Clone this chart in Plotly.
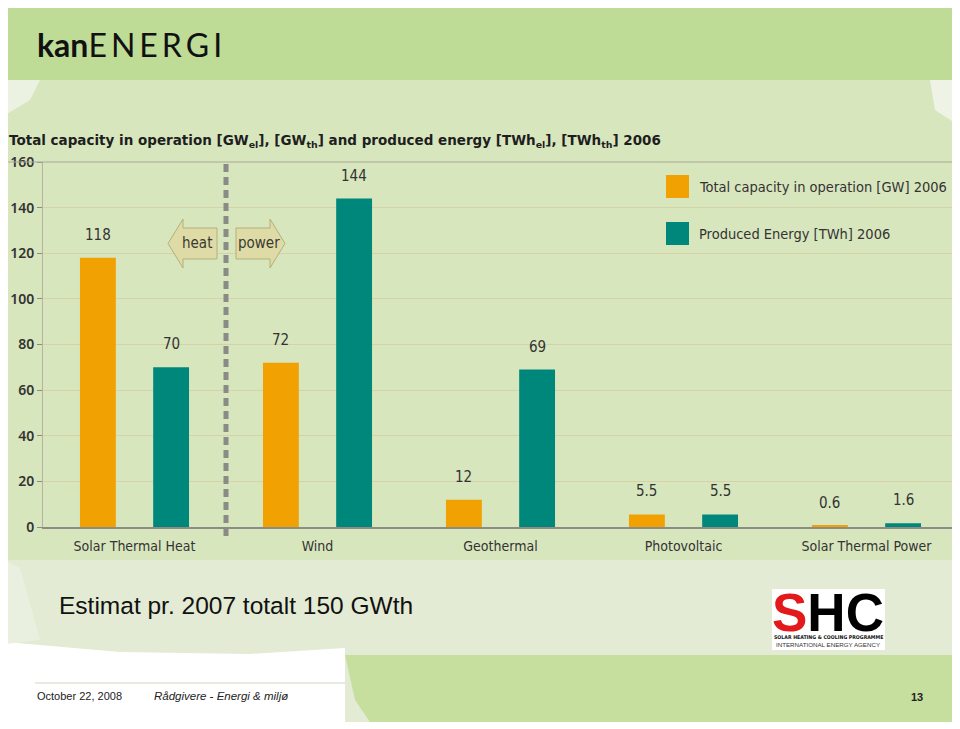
import plotly.graph_objects as go

# ---------------- data ----------------
categories = ["Solar Thermal Heat", "Wind", "Geothermal", "Photovoltaic", "Solar Thermal Power"]
capacity_gw = [118, 72, 12, 5.5, 0.6]
energy_twh = [70, 144, 69, 5.5, 1.6]
series_names = ["Total capacity in operation [GW] 2006", "Produced Energy [TWh] 2006"]
y_ticks = [0, 20, 40, 60, 80, 100, 120, 140, 160]

ORANGE = "#f1a102"
TEAL = "#00877b"
# page body has an 8px margin; figure is drawn at (8, 8)
OFF = 8
W, H = 960 - OFF, 729 - OFF
P_L, P_R, P_T, P_B = 43, 958, 162, 527   # plot area in screen pixels
ML, MR, MT, MB = P_L - OFF, (W + OFF) - P_R, P_T - OFF, (H + OFF) - P_B
PW, PH = P_R - P_L, P_B - P_T


def px(x):
    return (x - P_L) / PW


def py(y):
    return (P_B - y) / PH


fig = go.Figure()
fig.add_trace(go.Bar(x=categories, y=capacity_gw, name=series_names[0],
                     marker=dict(color=ORANGE, line=dict(width=0)), showlegend=False))
fig.add_trace(go.Bar(x=categories, y=energy_twh, name=series_names[1],
                     marker=dict(color=TEAL, line=dict(width=0)), showlegend=False))

shapes = []
ann = []


def rect(x0, y0, x1, y1, color, layer="below", line=None):
    shapes.append(dict(type="rect", xref="paper", yref="paper", x0=px(x0), x1=px(x1),
                       y0=py(y1), y1=py(y0), fillcolor=color, layer=layer,
                       line=line or dict(width=0)))


def path(points, color, layer="below", line=None):
    d = "M " + " L ".join(f"{px(a)},{py(b)}" for a, b in points) + " Z"
    shapes.append(dict(type="path", xref="paper", yref="paper", path=d, fillcolor=color,
                       layer=layer, line=line or dict(width=0)))


def text(x, y, s, font, xanchor="center", yanchor="middle"):
    ann.append(dict(x=px(x), y=py(y), xref="paper", yref="paper", text=s, showarrow=False,
                    xanchor=xanchor, yanchor=yanchor, font=font))


# slide background
rect(5, 80, 958, 560, "#d8e6be")
rect(5, 560, 958, 722, "#e3ebd4")
path([(5, 80), (40, 80), (30, 100), (5, 115)], "#ecf2e2")
path([(930, 80), (958, 80), (958, 125), (935, 110)], "#eef3e6")
path([(5, 642), (120, 652), (250, 654), (345, 648), (345, 729), (5, 729)], "#ffffff")
path([(5, 560), (20, 568), (40, 640), (5, 644)], "#eaf0e0")
path([(345, 655), (958, 655), (958, 722), (370, 722), (355, 700)], "#c6df9f")
rect(5, 5, 955, 80, "#bfdc97")
# footer line
shapes.append(dict(type="line", xref="paper", yref="paper", x0=px(35), x1=px(345),
                   y0=py(683), y1=py(683), line=dict(color="#d2d4c4", width=1), layer="below"))
# plot border (top/right)
shapes.append(dict(type="line", xref="paper", yref="paper", x0=px(5), x1=1, y0=1, y1=1,
                   line=dict(color="#a9a794", width=1)))
shapes.append(dict(type="line", xref="paper", yref="paper", x0=1, x1=1, y0=0, y1=1,
                   line=dict(color="#c9c6a6", width=1)))

# heat / power separator
shapes.append(dict(type="line", xref="x", yref="paper", x0=0.5, x1=0.5, y0=py(536), y1=1,
                   line=dict(color="#8a8a86", width=5, dash="8px,5px")))

# arrows
arrow_line = dict(color="#b3b07a", width=1)
path([(217, 228), (183, 228), (183, 219), (168, 243.5), (183, 268), (183, 259), (217, 259)],
     "#dedba7", layer="above", line=arrow_line)
path([(236, 228), (270, 228), (270, 219), (285, 243.5), (270, 268), (270, 259), (236, 259)],
     "#dedba7", layer="above", line=arrow_line)
arrow_font = dict(family="DejaVu Sans Condensed", size=15, color="#3a3a30")
text(197, 243, "heat", arrow_font)
text(259, 243, "power", arrow_font)

# value labels
for i, (a, b) in enumerate(zip(capacity_gw, energy_twh)):
    for val, off in ((a, -0.2), (b, 0.2)):
        ann.append(dict(x=i + off, y=val, xref="x", yref="y", text=f"{val:g}", showarrow=False,
                        xanchor="center", yanchor="bottom", yshift=12,
                        font=dict(family="DejaVu Sans Condensed", size=15, color="#333333")))

# legend (drawn)
for k, (name, col) in enumerate(zip(series_names, [ORANGE, TEAL])):
    y0 = 175 + k * 47
    rect(666, y0, 689, y0 + 23, col, layer="above")
    text(697, y0 + 12, name, dict(family="DejaVu Sans Condensed", size=14.5, color="#333333"),
         xanchor="left")

# title
text(7, 141, "Total capacity in operation [GW<sub>el</sub>], [GW<sub>th</sub>] and produced energy "
             "[TWh<sub>el</sub>], [TWh<sub>th</sub>] 2006",
     dict(family="DejaVu Sans", size=13.5, color="#1e1e1e", weight="bold"), xanchor="left")

# logo
text(35, 44, "<b>kan</b>E\u2009N\u2009E\u2009R\u2009G\u2009I",
     dict(family="Lato", size=32, color="#111111"), xanchor="left")

# note
text(57, 605, "Estimat pr. 2007 totalt 150 GWth",
     dict(family="Liberation Sans", size=24.5, color="#111111"), xanchor="left")

# SHC logo
rect(772, 589, 885, 650, "#ffffff", layer="above")
text(828, 612, "<span style='color:#e3191b'>S</span>HC",
     dict(family="Liberation Sans", size=53, color="#000000", weight="bold"))
text(828, 636.5, "SOLAR HEATING &amp; COOLING PROGRAMME",
     dict(family="DejaVu Sans Condensed", size=5.2, color="#111111", weight="bold"))
text(828, 644.5, "INTERNATIONAL ENERGY AGENCY",
     dict(family="Liberation Sans", size=6.2, color="#333333"))

# footer
foot = dict(family="Liberation Sans", size=11, color="#222222")
text(35, 696, "October 22, 2008", foot, xanchor="left")
text(152, 696, "<i>Rådgivere - Energi &amp; miljø</i>",
     dict(family="Liberation Sans", size=11.5, color="#222222"), xanchor="left")
text(917, 697, "<b>13</b>", foot)

fig.update_layout(
    width=W, height=H,
    margin=dict(l=ML, r=MR, t=MT, b=MB, pad=0),
    paper_bgcolor="#ffffff",
    plot_bgcolor="#f2eec6",
    barmode="group", bargap=0.2, bargroupgap=0.51,
    shapes=shapes, annotations=ann,
    xaxis=dict(type="category", showgrid=False, ticks="", showline=True, linecolor="#8c8c84",
               linewidth=1.5, ticklabelstandoff=5,
               tickfont=dict(family="DejaVu Sans Condensed", size=14, color="#333333")),
    yaxis=dict(range=[0, 160], tickvals=y_ticks, showgrid=True, gridcolor="#d6d1a6", gridwidth=1,
               zeroline=False, showline=True, linecolor="#b5b39f", linewidth=1,
               ticks="outside", ticklen=5, tickcolor="#8c8c84",
               tickfont=dict(family="Noto Sans", size=14, color="#333333", weight=600)),
)

fig.write_html("out.html")
